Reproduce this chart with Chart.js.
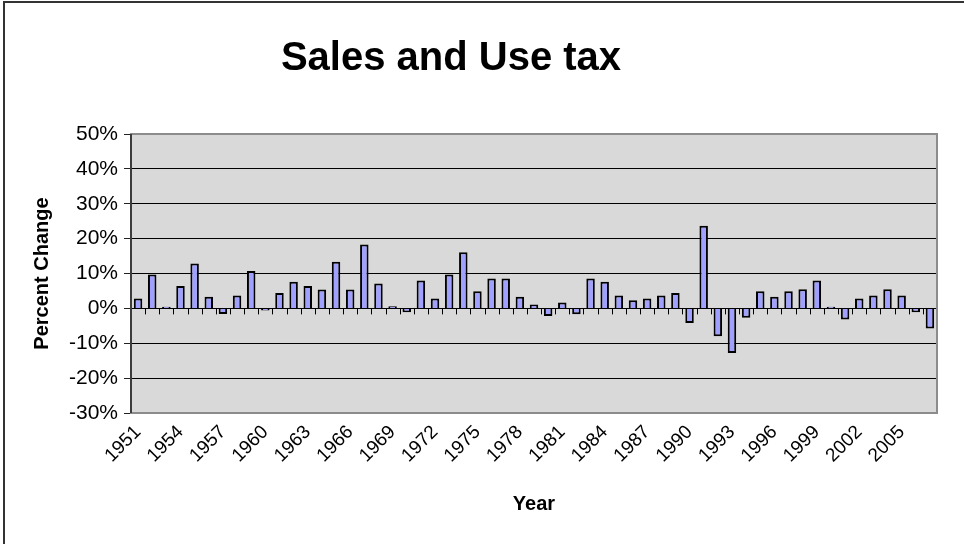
<!DOCTYPE html>
<html>
<head>
<meta charset="utf-8">
<script src="https://cdn.jsdelivr.net/npm/chart.js@4.4.1/dist/chart.umd.min.js"></script>
<style>
  html, body { margin: 0; padding: 0; background: #fff; }
  #wrap { width: 964px; height: 544px; position: relative; }
</style>
</head>
<body>
<div id="wrap"><canvas id="salesChart" width="964" height="544"></canvas></div>
<script>
// data (percent change per year)
const years = ['1951','1952','1953','1954','1955','1956','1957','1958','1959','1960',
  '1961','1962','1963','1964','1965','1966','1967','1968','1969','1970',
  '1971','1972','1973','1974','1975','1976','1977','1978','1979','1980',
  '1981','1982','1983','1984','1985','1986','1987','1988','1989','1990',
  '1991','1992','1993','1994','1995','1996','1997','1998','1999','2000',
  '2001','2002','2003','2004','2005','2006','2007'];
const pctChange = [2.8, 9.7, 0.5, 6.4, 12.9, 3.3, -1.6, 3.7, 10.7, -0.6,
  4.4, 7.6, 6.4, 5.4, 13.4, 5.4, 18.3, 7.1, 0.6, -1.1,
  8.0, 2.8, 9.7, 16.1, 4.9, 8.6, 8.6, 3.3, 1.1, -2.2,
  1.7, -1.7, 8.6, 7.6, 3.7, 2.3, 2.8, 3.7, 4.4, -4.2,
  23.7, -8.0, -12.8, -2.7, 4.9, 3.3, 4.9, 5.5, 8.0, 0.5,
  -3.2, 2.8, 3.7, 5.5, 3.7, -1.1, -5.8];
const shownYears = ['1951','1954','1957','1960','1963','1966','1969','1972','1975',
  '1978','1981','1984','1987','1990','1993','1996','1999','2002','2005'];
const yTicks = [-30, -20, -10, 0, 10, 20, 30, 40, 50];

const FONT = "'Liberation Sans', Arial, sans-serif";

// grey plot background, frame, zero-line tick marks and the chart title
const decorations = {
    id: 'decorations',
    beforeDraw(chart) {
        const ctx = chart.ctx;
        const a = chart.chartArea;
        ctx.save();
        ctx.fillStyle = '#fff';
        ctx.fillRect(0, 0, chart.width, chart.height);
        ctx.strokeStyle = '#333';
        ctx.lineWidth = 2;
        ctx.beginPath();
        ctx.moveTo(4, chart.height);
        ctx.lineTo(4, 2);
        ctx.lineTo(chart.width, 2);
        ctx.stroke();
        ctx.fillStyle = '#d9d9d9';
        ctx.fillRect(a.left, a.top, a.right - a.left, a.bottom - a.top);
        ctx.restore();
    },
    afterDatasetsDraw(chart) {
        const ctx = chart.ctx;
        const a = chart.chartArea;
        const x = chart.scales.x;
        const y0 = chart.scales.y.getPixelForValue(0);
        ctx.save();
        ctx.strokeStyle = '#000';
        ctx.lineWidth = 1;
        ctx.beginPath();
        for (let i = 1; i < years.length; i++) {
            const bx = Math.round((x.getPixelForTick(i - 1) + x.getPixelForTick(i)) / 2) + 0.5;
            ctx.moveTo(bx, y0);
            ctx.lineTo(bx, y0 + 6);
        }
        ctx.stroke();
        ctx.strokeStyle = '#8c8c8c';
        ctx.lineWidth = 2;
        ctx.strokeRect(a.left, a.top, a.right - a.left, a.bottom - a.top);
        ctx.strokeStyle = '#222';
        ctx.lineWidth = 1.5;
        ctx.beginPath();
        ctx.moveTo(a.left, a.top);
        ctx.lineTo(a.left, a.bottom);
        ctx.stroke();
        ctx.restore();
    },
    afterDraw(chart) {
        const ctx = chart.ctx;
        ctx.save();
        ctx.fillStyle = '#000';
        ctx.font = 'bold 40px ' + FONT;
        ctx.textAlign = 'center';
        ctx.textBaseline = 'middle';
        ctx.fillText('Sales and Use tax', 451, 59);
        ctx.restore();
    }
};

const salesChart = new Chart(document.getElementById('salesChart').getContext('2d'), {
    type: 'bar',
    data: {
        labels: years,
        datasets: [{
            label: 'Sales and Use tax',
            data: pctChange,
            backgroundColor: '#a0a0ff',
            borderColor: '#000',
            borderWidth: 2,
            categoryPercentage: 1.0,
            barPercentage: 0.6
        }]
    },
    options: {
        responsive: false,
        animation: false,
        layout: { padding: { top: 134, right: 27, left: 0, bottom: 0 } },
        plugins: {
            legend: { display: false },
            tooltip: { enabled: false }
        },
        scales: {
            x: {
                offset: true,
                grid: { display: false },
                border: { display: false },
                ticks: {
                    autoSkip: false,
                    minRotation: 45,
                    maxRotation: 45,
                    padding: 0,
                    color: '#000',
                    font: { family: FONT, size: 19 },
                    callback: function(value, index) {
                        return shownYears.includes(years[index]) ? years[index] : '';
                    }
                },
                title: {
                    display: true,
                    text: 'Year',
                    color: '#000',
                    font: { family: FONT, size: 20, weight: 'bold' },
                    padding: { top: 4, bottom: 28 }
                },
                afterFit: function(scale) { scale.height = 131; }
            },
            y: {
                min: -30,
                max: 50,
                afterBuildTicks: function(scale) {
                    scale.ticks = yTicks.map(v => ({ value: v }));
                },
                grid: {
                    color: '#000',
                    lineWidth: 1,
                    drawTicks: true,
                    tickLength: 7,
                    tickColor: '#222'
                },
                border: { display: false },
                ticks: {
                    color: '#000',
                    padding: 6,
                    font: { family: FONT, size: 21 },
                    callback: function(value) { return value + '%'; }
                },
                title: {
                    display: true,
                    text: 'Percent Change',
                    color: '#000',
                    font: { family: FONT, size: 20, weight: 'bold' },
                    padding: { top: 30, bottom: 0 }
                },
                afterFit: function(scale) { scale.width = 131; }
            }
        }
    },
    plugins: [decorations]
});
</script>
</body>
</html>
